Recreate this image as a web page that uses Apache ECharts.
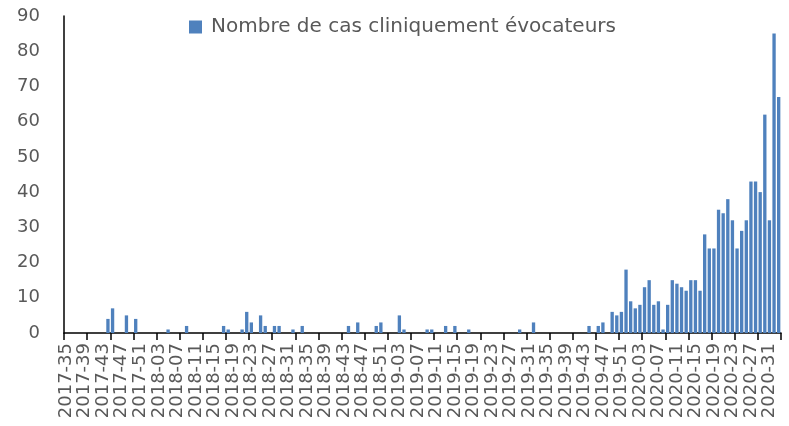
<!DOCTYPE html>
<html>
<head>
<meta charset="utf-8">
<script src="https://cdn.jsdelivr.net/npm/echarts@6/dist/echarts.min.js"></script>
<style>html,body{margin:0;padding:0;background:#fff}#c{width:789px;height:426px}</style>
</head>
<body>
<div id="c"></div>
<script>
// Week categories (ISO year-week)
const weeks2017 = ['2017-35','2017-36','2017-37','2017-38','2017-39','2017-40','2017-41','2017-42','2017-43','2017-44','2017-45','2017-46','2017-47','2017-48','2017-49','2017-50','2017-51','2017-52'];
const weeks2018 = ['2018-01','2018-02','2018-03','2018-04','2018-05','2018-06','2018-07','2018-08','2018-09','2018-10','2018-11','2018-12','2018-13','2018-14','2018-15','2018-16','2018-17','2018-18','2018-19','2018-20','2018-21','2018-22','2018-23','2018-24','2018-25','2018-26','2018-27','2018-28','2018-29','2018-30','2018-31','2018-32','2018-33','2018-34','2018-35','2018-36','2018-37','2018-38','2018-39','2018-40','2018-41','2018-42','2018-43','2018-44','2018-45','2018-46','2018-47','2018-48','2018-49','2018-50','2018-51','2018-52'];
const weeks2019 = ['2019-01','2019-02','2019-03','2019-04','2019-05','2019-06','2019-07','2019-08','2019-09','2019-10','2019-11','2019-12','2019-13','2019-14','2019-15','2019-16','2019-17','2019-18','2019-19','2019-20','2019-21','2019-22','2019-23','2019-24','2019-25','2019-26','2019-27','2019-28','2019-29','2019-30','2019-31','2019-32','2019-33','2019-34','2019-35','2019-36','2019-37','2019-38','2019-39','2019-40','2019-41','2019-42','2019-43','2019-44','2019-45','2019-46','2019-47','2019-48','2019-49','2019-50','2019-51','2019-52'];
const weeks2020 = ['2020-01','2020-02','2020-03','2020-04','2020-05','2020-06','2020-07','2020-08','2020-09','2020-10','2020-11','2020-12','2020-13','2020-14','2020-15','2020-16','2020-17','2020-18','2020-19','2020-20','2020-21','2020-22','2020-23','2020-24','2020-25','2020-26','2020-27','2020-28','2020-29','2020-30','2020-31','2020-32','2020-33'];

// Weekly case counts, one per week above
const cases2017 = [0,0,0,0,0,0,0,0,0,4, 7,0,0,5,0,4,0,0];
const cases2018 = [0,0,0,0,1,0,0,0,2,0, 0,0,0,0,0,0,2,1,0,0, 1,6,3,0,5,2,0,2,2,0, 0,1,0,2,0,0,0,0,0,0, 0,0,0,2,0,3,0,0,0,2, 3,0];
const cases2019 = [0,0,5,1,0,0,0,0,1,1, 0,0,2,0,2,0,0,1,0,0, 0,0,0,0,0,0,0,0,1,0, 0,3,0,0,0,0,0,0,0,0, 0,0,0,2,0,2,3,0,6,5, 6,18];
const cases2020 = [9,7,8,13,15,8,9,1,8,15, 14,13,12,15,15,12,28,24,24,35, 34,38,32,24,29,32,43,43,40,62, 32,85,67];

const categories = weeks2017.concat(weeks2018, weeks2019, weeks2020);
const values = cases2017.concat(cases2018, cases2019, cases2020);

const yTicks = { min: 0, max: 90, interval: 10 };
const seriesName = 'Nombre de cas cliniquement évocateurs';

const chart = echarts.init(document.getElementById('c'), null, { renderer: 'canvas' });
const FONT = 'DejaVu Sans';
chart.setOption({
  animation: false,
  backgroundColor: '#ffffff',
  legend: {
    data: [seriesName],
    left: 189,
    top: 17,
    padding: 0,
    icon: 'rect',
    itemWidth: 13,
    itemHeight: 13,
    itemGap: 8,
    textStyle: { color: '#595959', fontSize: 20, fontFamily: FONT, padding: [0, 0, 0, 4] }
  },
  grid: { left: 64, right: 8, top: 16, bottom: 93, containLabel: false },
  xAxis: {
    type: 'category',
    data: categories,
    boundaryGap: true,
    axisLine: { show: true, lineStyle: { color: '#000000', width: 1.5 } },
    axisTick: { show: true, interval: 4, length: 7, lineStyle: { color: '#000000', width: 1.5 } },
    axisLabel: { interval: 3, rotate: 90, margin: 10, color: '#595959', fontSize: 18, fontFamily: FONT },
    splitLine: { show: false }
  },
  yAxis: {
    type: 'value',
    min: yTicks.min,
    max: yTicks.max,
    interval: yTicks.interval,
    axisLine: { show: true, lineStyle: { color: '#000000', width: 1.5 } },
    axisTick: { show: false },
    axisLabel: { margin: 24, color: '#595959', fontSize: 18, fontFamily: FONT },
    splitLine: { show: false }
  },
  series: [{
    name: seriesName,
    type: 'bar',
    data: values,
    barCategoryGap: '28%',
    itemStyle: { color: '#4F81BD' }
  }]
});
</script>
</body>
</html>
